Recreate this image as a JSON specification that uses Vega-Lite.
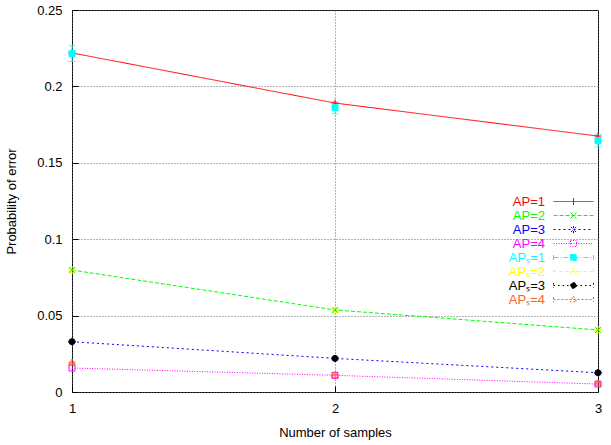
{
  "$schema": "https://vega.github.io/schema/vega-lite/v6.json",
  "width": 526,
  "height": 382,
  "autosize": "none",
  "padding": {"left": 72, "top": 10, "right": 13, "bottom": 53},
  "config": {
    "font": "Liberation Sans",
    "view": {"stroke": "#000", "strokeWidth": 1},
    "axis": {
      "labelFont": "Liberation Sans", "labelFontSize": 13, "labelColor": "#000",
      "titleFont": "Liberation Sans", "titleFontSize": 13, "titleFontWeight": "normal", "titleColor": "#000",
      "domain": false, "tickColor": "#000", "tickSize": -6, "tickWidth": 1,
      "gridColor": "#666", "gridDash": [1, 2], "gridOpacity": 1, "gridWidth": 1,
      "labelOverlap": false
    }
  },
  "data": {
    "values": [
      {"s": "AP=1", "x": 1, "y": 0.2219},
      {"s": "AP=1", "x": 2, "y": 0.1891},
      {"s": "AP=1", "x": 3, "y": 0.1675},
      {"s": "AP=2", "x": 1, "y": 0.0798},
      {"s": "AP=2", "x": 2, "y": 0.0537},
      {"s": "AP=2", "x": 3, "y": 0.0406},
      {"s": "AP=3", "x": 1, "y": 0.0329},
      {"s": "AP=3", "x": 2, "y": 0.0220},
      {"s": "AP=3", "x": 3, "y": 0.0126},
      {"s": "AP=4", "x": 1, "y": 0.0157},
      {"s": "AP=4", "x": 2, "y": 0.0109},
      {"s": "AP=4", "x": 3, "y": 0.0052},
      {"s": "APₛ=1", "x": 1, "y": 0.2215, "lo": 0.2163, "hi": 0.2267},
      {"s": "APₛ=1", "x": 2, "y": 0.1861, "lo": 0.1820, "hi": 0.1902},
      {"s": "APₛ=1", "x": 3, "y": 0.1645, "lo": 0.1603, "hi": 0.1687},
      {"s": "APₛ=2", "x": 1, "y": 0.0798, "lo": 0.0794, "hi": 0.0802},
      {"s": "APₛ=2", "x": 2, "y": 0.0537, "lo": 0.0533, "hi": 0.0541},
      {"s": "APₛ=2", "x": 3, "y": 0.0406, "lo": 0.0402, "hi": 0.0410},
      {"s": "APₛ=3", "x": 1, "y": 0.0329, "lo": 0.0325, "hi": 0.0333},
      {"s": "APₛ=3", "x": 2, "y": 0.0220, "lo": 0.0216, "hi": 0.0224},
      {"s": "APₛ=3", "x": 3, "y": 0.0126, "lo": 0.0122, "hi": 0.0130},
      {"s": "APₛ=4", "x": 1, "y": 0.0192, "lo": 0.0188, "hi": 0.0196},
      {"s": "APₛ=4", "x": 2, "y": 0.0111, "lo": 0.0107, "hi": 0.0115},
      {"s": "APₛ=4", "x": 3, "y": 0.0056, "lo": 0.0052, "hi": 0.0060}
    ]
  },
  "layer": [
    {
      "transform": [{"filter": "length(datum.s) === 4"}],
      "mark": {"type": "line", "strokeWidth": 1},
      "encoding": {
        "x": {
          "field": "x", "type": "ordinal", "title": "Number of samples",
          "scale": {"type": "point", "domain": [1, 2, 3], "padding": 0},
          "axis": {"labelAngle": 0, "grid": true, "labelPadding": 16, "titlePadding": 11}
        },
        "y": {
          "field": "y", "type": "quantitative", "title": "Probability of error",
          "scale": {"domain": [0, 0.25], "nice": false},
          "axis": {"values": [0, 0.05, 0.1, 0.15, 0.2, 0.25], "format": "~g", "grid": true, "labelPadding": 16, "titlePadding": 18}
        },
        "color": {
          "field": "s", "type": "nominal",
          "scale": {
            "domain": ["AP=1", "AP=2", "AP=3", "AP=4", "APₛ=1", "APₛ=2", "APₛ=3", "APₛ=4"],
            "range": ["#ff0000", "#00ff00", "#0000ff", "#ff00ff", "#00ffff", "#ffff00", "#000000", "#ff5f1f"]
          },
          "legend": {
            "title": null, "orient": "none", "legendX": 495, "legendY": 185, "padding": 0,
            "symbolSize": 100, "symbolStrokeWidth": 1, "symbolType": "M-4,0H4",
            "labelFont": "Liberation Sans", "labelFontSize": 13, "labelAlign": "right", "labelOffset": -35,
            "rowPadding": 0,
            "encode": {
              "symbols": {
                "update": {
                  "shape": {"signal": "datum.value === 'AP=1' ? 'M-4,0H4M0,-0.7V0.7' : datum.value === 'AP=2' ? 'M-4,0H4M-0.6,-0.6L0.6,0.6M-0.6,0.6L0.6,-0.6' : datum.value === 'AP=3' ? 'M-4,0H4M0,-0.7V0.7M-0.5,-0.5L0.5,0.5M-0.5,0.5L0.5,-0.5' : datum.value === 'AP=4' ? 'M-4,0H4M-0.6,-0.6H0.6V0.6H-0.6Z' : datum.value === 'APₛ=1' ? 'M-4,0H4M-4,-0.5V0.5M4,-0.5V0.5M-0.6,-0.6H0.6V0.6H-0.6Z' : datum.value === 'APₛ=4' ? 'M-4,0H4M-4,-0.5V0.5M4,-0.5V0.5M0,-0.7L0.65,0.45H-0.65Z' : 'M-4,0H4M-4,-0.5V0.5M4,-0.5V0.5M0.6,0A0.6,0.6,0,1,1,-0.6,0A0.6,0.6,0,1,1,0.6,0Z'"},
                  "strokeDash": {"signal": "datum.value === 'AP=1' ? [1,0] : datum.value === 'AP=2' ? [4,2] : datum.value === 'AP=3' ? [2,3] : datum.value === 'AP=4' ? [1,1.5] : datum.value === 'APₛ=1' ? [5,2,1,2] : datum.value === 'APₛ=2' ? [3,3] : datum.value === 'APₛ=3' ? [1.5,3] : [2,2]"},
                  "stroke": {"signal": "scale('color', datum.value)"},
                  "fill": {"signal": "scale('color', datum.value)"},
                  "fillOpacity": {"signal": "(datum.value === 'APₛ=1' || datum.value === 'APₛ=3') ? 1 : 0"},
                  "opacity": {"value": 1}
                }
              },
              "labels": {
                "update": {
                  "fill": {"signal": "scale('color', datum.value)"}
                }
              }
            }
          }
        },
        "strokeDash": {
          "field": "s", "type": "nominal",
          "scale": {"domain": ["AP=1", "AP=2", "AP=3", "AP=4"], "range": [[1, 0], [4, 2], [2, 3], [1, 1.5]]},
          "legend": null
        }
      }
    },
    {
      "transform": [{"filter": "length(datum.s) > 4"}],
      "mark": {"type": "errorbar", "ticks": {"size": 7}, "thickness": 1},
      "encoding": {
        "x": {"field": "x", "type": "ordinal", "title": "Number of samples"},
        "y": {"field": "lo", "type": "quantitative", "title": "Probability of error"},
        "y2": {"field": "hi"},
        "color": {"field": "s", "type": "nominal", "legend": null}
      }
    },
    {
      "mark": {"type": "point", "filled": false, "size": 100, "strokeWidth": 1, "opacity": 1},
      "encoding": {
        "x": {"field": "x", "type": "ordinal", "title": "Number of samples"},
        "y": {"field": "y", "type": "quantitative", "title": "Probability of error"},
        "color": {"field": "s", "type": "nominal", "legend": null},
        "fill": {
          "field": "s", "type": "nominal",
          "scale": {
            "domain": ["AP=1", "AP=2", "AP=3", "AP=4", "APₛ=1", "APₛ=2", "APₛ=3", "APₛ=4"],
            "range": ["transparent", "transparent", "transparent", "transparent", "#00ffff", "transparent", "#000000", "transparent"]
          },
          "legend": null
        },
        "shape": {
          "field": "s", "type": "nominal",
          "scale": {
            "range": [
              "M-0.7,0H0.7M0,-0.7V0.7",
              "M-0.6,-0.6L0.6,0.6M-0.6,0.6L0.6,-0.6",
              "M-0.7,0H0.7M0,-0.7V0.7M-0.5,-0.5L0.5,0.5M-0.5,0.5L0.5,-0.5",
              "M-0.6,-0.6H0.6V0.6H-0.6Z",
              "M-0.6,-0.6H0.6V0.6H-0.6Z",
              "M0.6,0A0.6,0.6,0,1,1,-0.6,0A0.6,0.6,0,1,1,0.6,0Z",
              "M0.6,0A0.6,0.6,0,1,1,-0.6,0A0.6,0.6,0,1,1,0.6,0Z",
              "M0,-0.7L0.65,0.45H-0.65Z"
            ]
          },
          "legend": null
        }
      }
    }
  ]
}
